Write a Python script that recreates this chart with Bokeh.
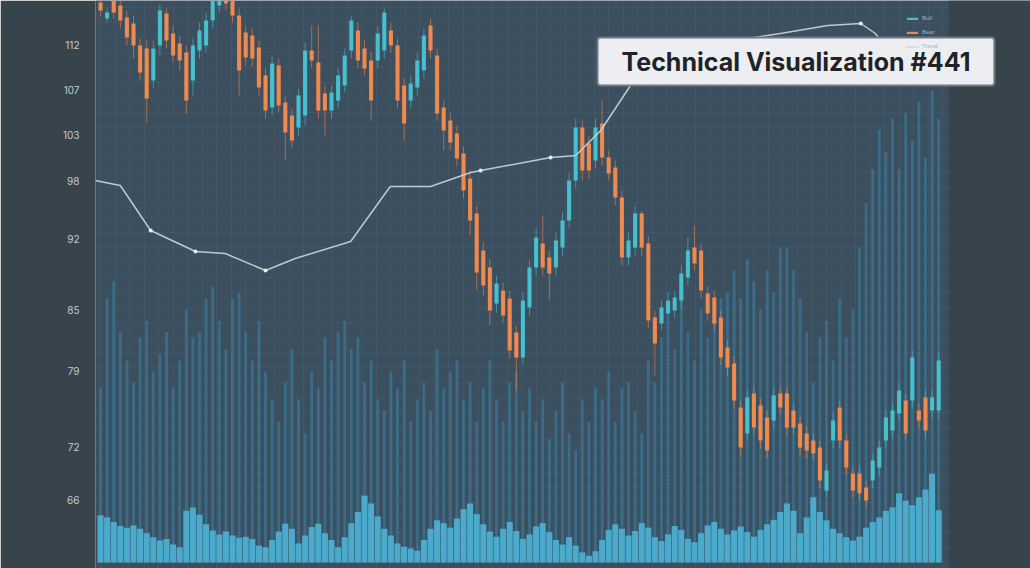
import numpy as np
from bokeh.plotting import figure
from bokeh.models import (ColumnDataSource, Range1d, FixedTicker, SingleIntervalTicker,
                          Label, Legend, LegendItem, NumeralTickFormatter, BoxAnnotation)
from bokeh.embed import file_html
from bokeh.resources import INLINE

# ---------------- data ----------------
open_ = [116.0, 114.4, 116.2, 115.7, 114.5, 113.9, 111.7, 111.4, 108.2, 111.7,
         114.9, 112.9, 111.9, 111.0, 108.2, 111.2, 111.7, 114.2, 115.7, 116.7,
         116.2, 114.7, 113.0, 112.7, 111.5, 108.7, 105.5, 109.7, 106.0, 104.7,
         103.5, 104.7, 111.2, 110.0, 106.9, 105.2, 106.2, 107.7, 111.2, 113.2,
         111.4, 110.2, 110.2, 111.2, 113.2, 111.7, 107.7, 106.2, 107.5, 109.2,
         113.7, 110.7, 105.5, 104.2, 102.9, 100.9, 98.4, 94.9, 91.2, 89.5,
         85.9, 87.2, 86.4, 83.0, 80.5, 85.5, 89.5, 91.9, 90.5, 89.5,
         91.5, 94.2, 98.2, 103.5, 101.9, 100.2, 103.9, 100.5, 99.5, 96.5,
         90.5, 91.5, 94.9, 91.9, 84.5, 83.9, 84.9, 85.2, 86.2, 88.5,
         91.5, 91.2, 86.9, 86.5, 84.5, 81.5, 79.9, 75.5, 72.9, 76.9,
         75.7, 74.5, 74.2, 76.9, 76.9, 75.2, 73.9, 72.9, 72.2, 71.5,
         67.2, 72.2, 75.5, 72.2, 68.9, 68.9, 67.5, 68.2, 69.5, 72.2,
         73.2, 74.9, 76.2, 76.2, 75.2, 76.5, 75.2, 75.2]
close_ = [115.2, 115.0, 115.0, 114.2, 112.5, 111.7, 109.0, 106.4, 111.4, 115.2,
          112.2, 110.7, 110.2, 106.2, 111.7, 113.2, 114.2, 116.2, 116.7, 115.9,
          114.7, 109.2, 110.5, 110.4, 107.5, 105.2, 109.9, 105.7, 103.0, 102.2,
          106.7, 111.2, 110.2, 105.2, 105.2, 107.0, 108.7, 110.7, 114.2, 110.2,
          109.4, 106.2, 112.9, 115.0, 111.7, 106.2, 103.9, 107.9, 110.2, 112.7,
          111.2, 104.9, 103.2, 102.0, 100.4, 97.2, 94.2, 89.0, 87.7, 85.2,
          87.9, 84.7, 81.2, 80.5, 86.2, 89.5, 92.5, 89.5, 88.9, 92.2,
          94.2, 98.2, 103.5, 99.2, 99.2, 103.5, 100.5, 98.9, 96.5, 90.5,
          92.2, 94.9, 91.5, 84.2, 81.9, 85.5, 86.2, 86.5, 88.9, 91.2,
          89.9, 87.2, 84.9, 83.9, 80.5, 79.5, 76.2, 71.5, 76.5, 73.5,
          72.2, 71.2, 76.7, 75.5, 73.5, 73.5, 71.5, 71.2, 70.9, 68.2,
          69.2, 74.2, 72.2, 69.5, 67.2, 66.9, 66.2, 70.2, 71.5, 74.5,
          75.2, 77.2, 72.9, 80.5, 74.2, 73.2, 76.5, 80.2]
high_ = [116.2, 115.4, 116.6, 116.2, 115.2, 114.7, 112.4, 112.2, 112.2, 115.8,
         115.4, 113.7, 112.7, 111.7, 112.4, 114.0, 115.0, 117.0, 117.4, 117.2,
         116.8, 115.4, 113.7, 113.4, 112.2, 109.4, 110.7, 110.4, 106.7, 105.4,
         107.4, 112.0, 113.7, 113.7, 107.7, 107.7, 109.4, 111.4, 114.7, 114.0,
         112.2, 111.0, 113.6, 115.4, 114.0, 112.4, 108.4, 108.7, 111.0, 113.4,
         114.4, 111.4, 106.2, 105.0, 103.7, 101.6, 99.2, 95.7, 92.0, 90.4,
         88.7, 88.0, 87.2, 83.7, 87.0, 90.2, 93.4, 94.7, 91.2, 93.0,
         95.0, 99.0, 104.4, 104.2, 102.7, 104.4, 106.2, 101.2, 100.2, 97.2,
         93.0, 95.7, 95.2, 92.6, 85.2, 86.2, 87.0, 87.2, 89.7, 92.5,
         93.7, 91.9, 87.6, 87.2, 85.2, 82.2, 80.6, 76.2, 77.2, 77.6,
         76.4, 75.2, 77.4, 77.6, 77.6, 75.9, 74.6, 73.6, 72.9, 72.2,
         69.9, 75.0, 76.2, 72.9, 69.6, 69.6, 68.2, 70.9, 72.2, 75.2,
         75.9, 77.9, 76.9, 81.2, 75.9, 77.2, 77.2, 81.0]
low_ = [114.6, 114.0, 114.4, 113.4, 111.7, 110.4, 108.2, 104.0, 107.4, 110.7,
        111.4, 110.0, 109.2, 104.9, 106.7, 110.4, 111.0, 113.4, 115.0, 115.2,
        114.0, 106.7, 109.7, 109.6, 106.7, 104.4, 104.7, 105.0, 100.2, 101.4,
        102.7, 103.7, 109.4, 104.4, 102.7, 104.4, 105.4, 107.0, 110.4, 109.4,
        108.7, 104.2, 109.4, 110.4, 111.0, 105.4, 102.2, 105.4, 106.7, 108.4,
        110.4, 104.2, 101.2, 101.2, 99.6, 96.4, 92.7, 87.2, 86.7, 83.7,
        85.0, 84.0, 80.4, 77.2, 79.7, 84.7, 88.7, 88.7, 86.2, 88.7,
        90.7, 93.4, 97.4, 98.2, 98.4, 99.4, 99.7, 98.2, 95.7, 89.7,
        89.7, 90.7, 90.7, 83.4, 78.7, 83.2, 84.2, 84.4, 85.4, 87.7,
        89.2, 86.4, 84.2, 83.2, 79.7, 78.7, 75.4, 70.7, 72.2, 72.8,
        71.4, 70.4, 73.4, 74.8, 72.7, 72.8, 70.7, 70.4, 70.2, 67.4,
        66.5, 71.4, 71.4, 68.7, 66.5, 66.2, 65.5, 67.4, 68.7, 71.4,
        72.4, 74.2, 72.2, 75.4, 73.4, 72.4, 74.4, 74.4]
vol_tall = [31, 47, 50, 41, 36, 32, 40, 43, 34, 37,
            41, 31, 36, 45, 40, 41, 47, 49, 43, 38,
            47, 48, 41, 36, 43, 34, 29, 25, 32, 38,
            29, 23, 34, 31, 40, 36, 41, 43, 38, 40,
            32, 36, 29, 27, 34, 31, 36, 25, 29, 32,
            27, 38, 31, 34, 36, 29, 32, 25, 31, 36,
            29, 25, 32, 34, 27, 31, 25, 29, 22, 27,
            32, 23, 20, 29, 25, 31, 29, 34, 25, 31,
            32, 27, 23, 36, 32, 40, 43, 38, 47, 41,
            36, 45, 40, 43, 47, 48, 52, 47, 54, 50,
            45, 52, 48, 56, 56, 52, 47, 41, 32, 40,
            43, 36, 47, 40, 45, 56, 64, 70, 77, 73,
            79, 70, 80, 75, 82, 72, 84, 79]
vol_base = [8.4, 8.0, 7.2, 6.5, 6.2, 6.6, 6.0, 5.2, 4.5, 3.9,
            4.2, 3.2, 2.7, 9.2, 9.8, 8.5, 6.8, 5.7, 5.0, 5.5,
            4.8, 4.4, 4.6, 4.2, 3.0, 2.7, 4.0, 5.5, 6.9, 6.0,
            3.4, 4.8, 6.3, 6.9, 5.2, 4.0, 2.7, 4.5, 7.0, 9.0,
            11.9, 10.5, 8.2, 6.0, 4.8, 3.4, 2.8, 2.5, 2.1, 4.0,
            6.0, 7.5, 7.0, 6.2, 7.8, 9.5, 10.5, 8.6, 6.8, 5.5,
            4.6, 6.0, 7.2, 5.6, 4.2, 5.0, 6.4, 7.0, 5.4, 4.0,
            3.2, 4.5, 3.0, 1.8, 1.2, 2.0, 4.0, 5.8, 6.8, 6.0,
            4.8, 5.6, 7.0, 6.2, 4.5, 3.8, 5.0, 6.5, 5.8, 4.2,
            3.6, 5.2, 6.6, 7.2, 6.0, 5.0, 5.7, 6.4, 5.4, 4.6,
            5.8, 6.8, 7.6, 9.0, 10.5, 9.2, 5.2, 8.0, 11.6, 9.0,
            7.5, 6.0, 5.2, 4.5, 3.9, 4.6, 6.2, 7.2, 8.0, 9.2,
            9.8, 12.3, 11.0, 10.2, 11.6, 13.0, 15.8, 9.3]
trend_idx = [-0.8, 3.0, 7.6, 14.4, 18.9, 25.0, 29.5, 37.9, 43.9, 50.0,
             56.1, 57.6, 68.2, 72.0, 75.8, 80.3, 90.9, 103.0, 110.2, 115.2,
             117.4, 120.5]
trend_val = [98.2, 97.7, 93.2, 91.1, 90.9, 89.2, 90.4, 92.1, 97.6, 97.6,
             99.0, 99.2, 100.5, 100.7, 103.2, 107.7, 111.7, 112.9, 113.7, 113.9,
             112.9, 110.2]
trend_dots = [2, 3, 5, 11, 12, 19]
ytick_vals = [111.8, 107.3, 102.8, 98.2, 92.4, 85.3, 79.2, 71.6, 66.3]
title_text = "Technical Visualization #441"
legend_labels = ["Bull", "Bear", "Trend"]

# ---------------- figure ----------------
W, H = 1030, 568
BG_OUT = "#38444c"
p = figure(width=W, height=H, output_backend="svg", toolbar_location=None,
           x_range=Range1d(-0.76, 140.91), y_range=Range1d(59.4, 116.2),
           min_border_left=95, min_border_right=0, min_border_top=0, min_border_bottom=0)
p.extra_y_ranges = {"vol": Range1d(-1.07, 100)}
p.background_fill_color = "#3c4f5f"
p.border_fill_color = BG_OUT
p.outline_line_color = None
p.xaxis.visible = False

p.yaxis.ticker = FixedTicker(ticks=ytick_vals)
p.yaxis.formatter = NumeralTickFormatter(format="0")
p.yaxis.axis_line_color = None
p.yaxis.major_tick_line_color = None
p.yaxis.minor_tick_line_color = None
p.yaxis.major_label_text_color = "#c3cad1"
p.yaxis.major_label_text_font = "Inter"
p.yaxis.major_label_text_font_size = "10px"
p.yaxis.major_label_standoff = 10

p.xgrid.ticker = SingleIntervalTicker(interval=2.2)
p.ygrid.ticker = SingleIntervalTicker(interval=1.5)
p.xgrid.grid_line_color = "#ffffff"
p.ygrid.grid_line_color = "#ffffff"
p.xgrid.grid_line_alpha = 0.035
p.ygrid.grid_line_alpha = 0.035

idx = np.arange(len(open_))
o = np.array(open_); c = np.array(close_)
up = c >= o
dn = ~up

vsrc = ColumnDataSource(dict(x=idx, vt=vol_tall, vb=vol_base))
p.vbar(x="x", top="vt", bottom=0, width=0.42, source=vsrc, y_range_name="vol",
       fill_color="#3796c0", fill_alpha=0.42, line_color=None)
p.vbar(x="x", top="vb", bottom=0, width=0.92, source=vsrc, y_range_name="vol",
       fill_color="#4db2d6", fill_alpha=0.9, line_color=None)

UP, DN = "#48c4d3", "#f58c4e"
su = ColumnDataSource(dict(x=idx[up], o=o[up], c=c[up],
                           h=np.array(high_)[up], l=np.array(low_)[up]))
sd = ColumnDataSource(dict(x=idx[dn], o=o[dn], c=c[dn],
                           h=np.array(high_)[dn], l=np.array(low_)[dn]))
p.segment(x0="x", y0="h", x1="x", y1="l", source=su, line_color=UP, line_alpha=0.55, line_width=1)
p.segment(x0="x", y0="h", x1="x", y1="l", source=sd, line_color=DN, line_alpha=0.55, line_width=1)
r_up = p.vbar(x="x", top="c", bottom="o", width=0.62, source=su, fill_color=UP, line_color=None, fill_alpha=0.95)
r_dn = p.vbar(x="x", top="o", bottom="c", width=0.62, source=sd, fill_color=DN, line_color=None, fill_alpha=0.95)

r_tr = p.line(trend_idx, trend_val, line_color="#cdd6dd", line_width=1.5, line_alpha=0.9)
p.scatter([trend_idx[i] for i in trend_dots], [trend_val[i] for i in trend_dots],
          size=4, fill_color="#e6ecf0", line_color=None)

# dark margin on the right of the chart area (the frame spans the full width)
p.add_layout(BoxAnnotation(left=128.5, fill_color=BG_OUT, fill_alpha=1.0, line_color=None))

leg = Legend(items=[LegendItem(label=legend_labels[0], renderers=[r_up]),
                    LegendItem(label=legend_labels[1], renderers=[r_dn]),
                    LegendItem(label=legend_labels[2], renderers=[r_tr])],
             location=(810, 518), background_fill_alpha=0, border_line_color=None,
             glyph_width=14, glyph_height=3, label_text_font_size="6px",
             label_text_color="#9fb3c0", label_height=8, spacing=6, padding=2,
             label_standoff=3, margin=0)
p.add_layout(leg, "center")

p.add_layout(Label(x=502, y=483, x_units="screen", y_units="screen", text=title_text,
                   text_font="Inter", text_font_size="25px", text_font_style="bold",
                   text_color="#1f2327", background_fill_color="#eceef1",
                   border_line_color="#6f7982", border_line_width=2, padding=(24, 9),
                   border_radius=3))

open("out.html", "w").write(file_html(p, INLINE))
